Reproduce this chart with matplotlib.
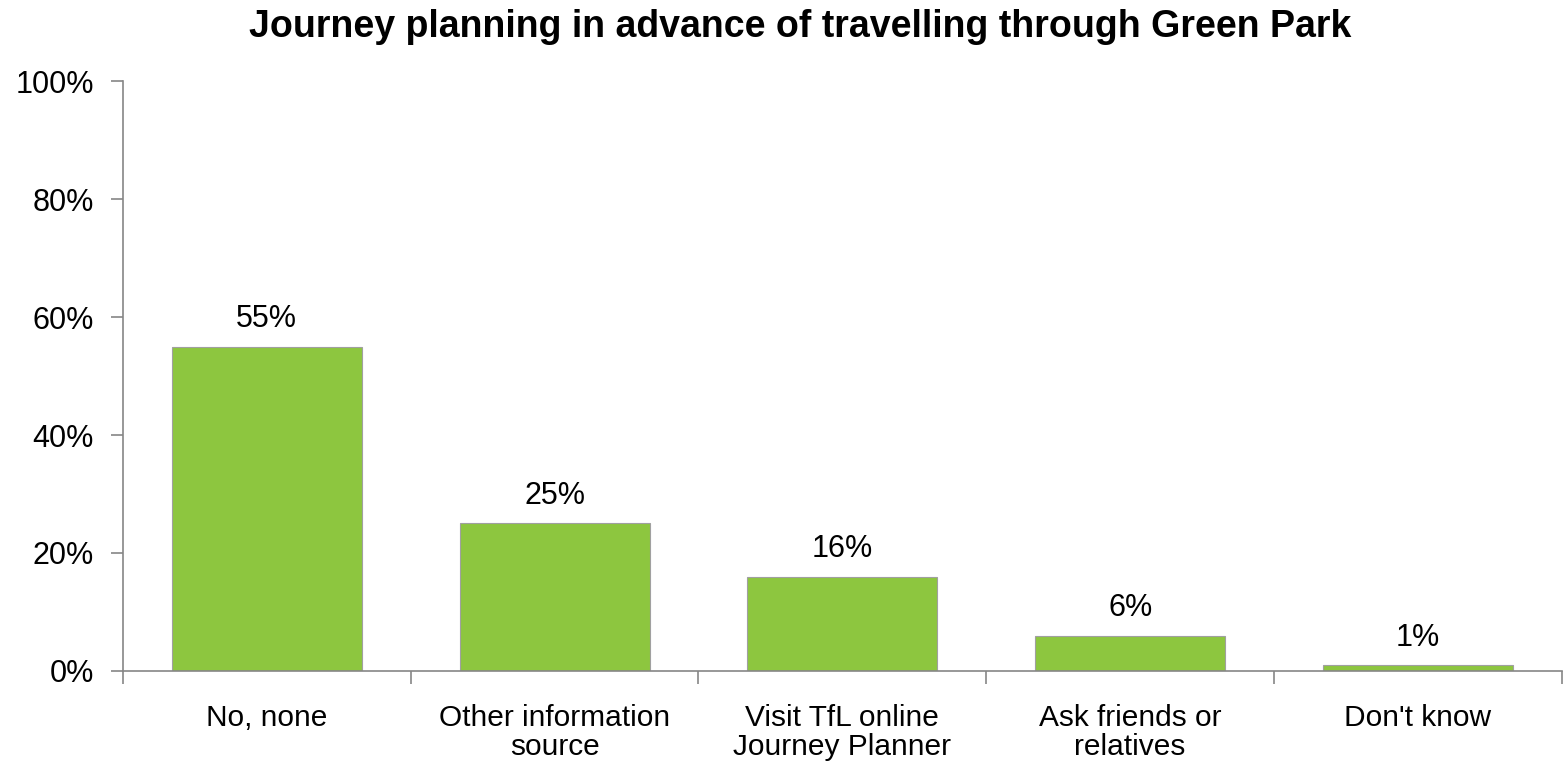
import numpy as np
import matplotlib
matplotlib.use("Agg")
import matplotlib.pyplot as plt
from matplotlib.ticker import FixedLocator, PercentFormatter

# data
categories = ["No, none", "Other information\nsource", "Visit TfL online\nJourney Planner",
              "Ask friends or\nrelatives", "Don't know"]
values = [55, 25, 16, 6, 1]

plt.rcParams['font.family'] = ['Liberation Sans', 'DejaVu Sans']

fig = plt.figure(figsize=(15.64, 7.63), dpi=100)
ax = fig.add_axes([0.0786, 0.1206, 0.92, 0.7732])

x = np.arange(len(categories))
bars = ax.bar(x, values, width=0.66, color='#8dc63f', edgecolor='#a0a0a0', linewidth=0.8, zorder=2)

for b, v in zip(bars, values):
    ax.annotate(f"{v}%", (b.get_x() + b.get_width() / 2, v), xytext=(0, 9),
                textcoords='offset points', ha='center', va='bottom', fontsize=22, color='#000000')

ax.set_xlim(-0.5, len(categories) - 0.5)
ax.set_ylim(0, 100)
ax.yaxis.set_major_locator(FixedLocator([0, 20, 40, 60, 80, 100]))
ax.yaxis.set_major_formatter(PercentFormatter(decimals=0))

ax.set_xticks(x)
ax.set_xticklabels(categories, fontsize=21.5, linespacing=1.05)
ax.xaxis.set_minor_locator(FixedLocator(np.arange(len(categories) + 1) - 0.5))
ax.tick_params(axis='x', which='major', length=0, pad=24)
ax.tick_params(axis='x', which='minor', length=9, width=1.2, color='#868686', direction='out')
ax.tick_params(axis='y', length=9, width=1.2, color='#868686', direction='out', labelsize=22, pad=12)

for s in ['top', 'right']:
    ax.spines[s].set_visible(False)
for s in ['left', 'bottom']:
    ax.spines[s].set_color('#868686')
    ax.spines[s].set_linewidth(1.2)

fig.text(0.5115, 0.965, "Journey planning in advance of travelling through Green Park",
         ha='center', va='center', fontsize=27, fontweight='bold')

fig.savefig('out.png', dpi=100)
